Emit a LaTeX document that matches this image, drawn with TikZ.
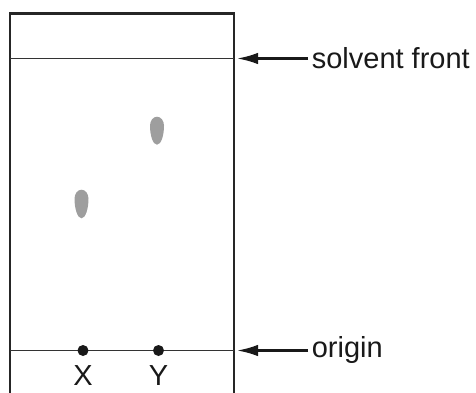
\documentclass[tikz,border=0pt]{standalone}
\usepackage{fontspec}
\setmainfont{Liberation Sans}
\usetikzlibrary{arrows.meta}

\begin{document}
\begin{tikzpicture}[x=0.02cm,y=0.02cm]
    
    \useasboundingbox (0,0) rectangle (476,392);
    
    % Plate
    \draw[line width=1.5pt, black!85] (10,-5) -- (10,378.5) -- (234,378.5) -- (234,-5);
    \draw[line width=0.8pt, black!80] (10,333.5) -- (234,333.5);
    \draw[line width=0.8pt, black!80] (10,41.5) -- (234,41.5);
    
    % Spots
    \fill[black!38] (74.5,193.3) arc[start angle=180, end angle=0, x radius=7, y radius=9] .. controls +(0,-10) and +(4,0) .. (81.5,173.7) .. controls +(-4,0) and +(0,-10) .. cycle;
    \fill[black!38] (150,266.3) arc[start angle=180, end angle=0, x radius=7, y radius=9] .. controls +(0,-10) and +(4,0) .. (157,247.3) .. controls +(-4,0) and +(0,-10) .. cycle;
    
    % Origin dots
    \fill[black!90] (83,41.5) circle (5.5);
    \fill[black!90] (158.5,41.5) circle (5.5);
    
    % Text
    \node[black!90] (X) at (83,16) {\fontsize{16.5}{19}\selectfont X};
    \node[black!90] (Y) at (158.5,16) {\fontsize{16.5}{19}\selectfont Y};
    
    \node[black!90, anchor=west, inner sep=2pt] (front) at (308,333.5) {\fontsize{16.5}{19}\selectfont solvent front};
    \node[black!90, anchor=west, inner sep=2pt] (origin) at (308,41.5) {\fontsize{16.5}{19}\selectfont origin};
    
    % Arrows
    \coordinate (fronttip) at (237,333.5);
    \coordinate (origintip) at (237,41.5);
    \draw[black!90, line width=1.3pt, -{Latex[length=0.42cm, width=0.23cm]}] (front.west) -- (fronttip);
    \draw[black!90, line width=1.3pt, -{Latex[length=0.42cm, width=0.23cm]}] (origin.west) -- (origintip);
    
\end{tikzpicture}
\end{document}
